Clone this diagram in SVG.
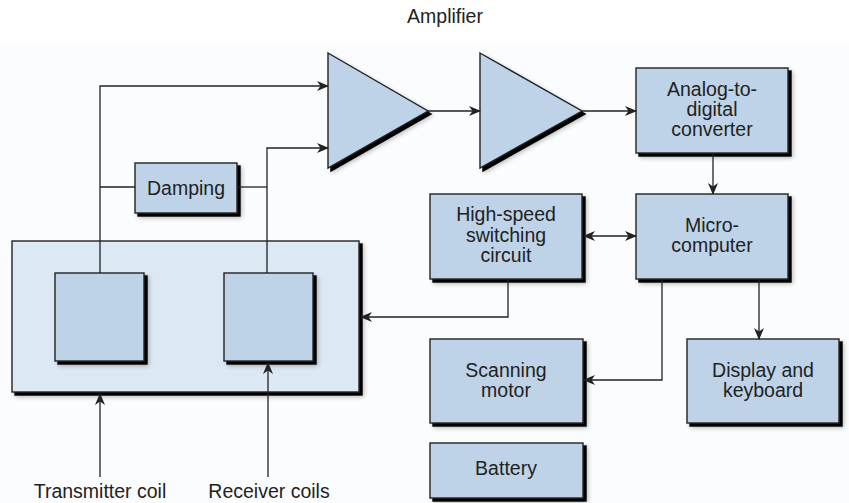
<svg xmlns="http://www.w3.org/2000/svg" width="849" height="503" viewBox="0 0 849 503">
<style>
.box{fill:#bed3e8;stroke:#222;stroke-width:1.4}
.outer{fill:#dce8f3;stroke:#222;stroke-width:1.4}
.ln{fill:none;stroke:#222;stroke-width:1.3}
text{font-family:"Liberation Sans",Arial,sans-serif;font-size:19.5px;fill:#222;text-anchor:middle}
</style>
<defs>
<marker id="ah" viewBox="0 0 12 10" refX="11" refY="5" markerWidth="12" markerHeight="10" markerUnits="userSpaceOnUse" orient="auto-start-reverse">
<path d="M0,0 L12,5 L0,10 L3.5,5 z" fill="#222"/>
</marker>
<filter id="sh" x="-10%" y="-10%" width="130%" height="130%">
<feOffset in="SourceAlpha" dx="2.5" dy="2.5" result="o"/>
<feGaussianBlur in="o" stdDeviation="0.6" result="b"/>
<feOffset in="SourceAlpha" dx="4" dy="4" result="o2"/>
<feGaussianBlur in="o2" stdDeviation="2.5" result="b2"/>
<feComponentTransfer in="b2" result="b3"><feFuncA type="linear" slope="0.3"/></feComponentTransfer>
<feMerge><feMergeNode in="b3"/><feMergeNode in="b"/><feMergeNode in="SourceGraphic"/></feMerge>
</filter>
</defs>
<rect width="849" height="503" fill="#ffffff"/>
<rect x="0" y="43" width="849" height="460" fill="#fbfcfd"/>

<g id="amplifier-label"><text x="445" y="23">Amplifier</text></g>

<g id="sensor-head"><rect class="outer" filter="url(#sh)" x="12" y="241" width="347" height="151"/></g>
<g id="transmitter-coil"><rect class="box" filter="url(#sh)" x="55" y="273" width="89" height="88"/></g>
<g id="receiver-coil"><rect class="box" filter="url(#sh)" x="224" y="273" width="89" height="88"/></g>

<g id="damping"><rect class="box" filter="url(#sh)" x="135" y="163" width="102" height="50"/><text x="186" y="195">Damping</text></g>

<g id="amp1"><polygon class="box" filter="url(#sh)" points="328,53 428,111 328,168"/></g>
<g id="amp2"><polygon class="box" filter="url(#sh)" points="480,53 582,111 480,168"/></g>

<g id="adc"><rect class="box" filter="url(#sh)" x="636" y="68" width="152" height="85"/>
<text x="712" y="96">Analog-to-</text><text x="712" y="116">digital</text><text x="712" y="136">converter</text></g>

<g id="microcomputer"><rect class="box" filter="url(#sh)" x="636" y="194" width="152" height="85"/>
<text x="712" y="232">Micro-</text><text x="712" y="252">computer</text></g>

<g id="switching"><rect class="box" filter="url(#sh)" x="430" y="194" width="152" height="85"/>
<text x="506" y="221">High-speed</text><text x="506" y="241.5">switching</text><text x="506" y="262">circuit</text></g>

<g id="scanning-motor"><rect class="box" filter="url(#sh)" x="430" y="339" width="153" height="84"/>
<text x="506" y="377">Scanning</text><text x="506" y="397">motor</text></g>

<g id="display"><rect class="box" filter="url(#sh)" x="687" y="339" width="152" height="84"/>
<text x="763" y="377">Display and</text><text x="763" y="397">keyboard</text></g>

<g id="battery"><rect class="box" filter="url(#sh)" x="430" y="443" width="153" height="55"/>
<text x="506" y="475">Battery</text></g>

<g id="labels"><text x="100" y="498">Transmitter coil</text><text x="269" y="498">Receiver coils</text></g>

<g id="connectors">
<polyline class="ln" points="100,273 100,86 328,86" marker-end="url(#ah)"/>
<line class="ln" x1="100" y1="187" x2="135" y2="187"/>
<line class="ln" x1="237" y1="187" x2="267" y2="187"/>
<polyline class="ln" points="267,273 267,148 328,148" marker-end="url(#ah)"/>
<line class="ln" x1="428" y1="111" x2="480" y2="111" marker-end="url(#ah)"/>
<line class="ln" x1="582" y1="111" x2="636" y2="111" marker-end="url(#ah)"/>
<line class="ln" x1="713" y1="153" x2="713" y2="194" marker-end="url(#ah)"/>
<line class="ln" x1="584" y1="236" x2="636" y2="236" marker-start="url(#ah)" marker-end="url(#ah)"/>
<polyline class="ln" points="508,279 508,317 361,317" marker-end="url(#ah)"/>
<polyline class="ln" points="662,279 662,380 584,380" marker-end="url(#ah)"/>
<line class="ln" x1="759" y1="279" x2="759" y2="339" marker-end="url(#ah)"/>
<line class="ln" x1="100" y1="477" x2="100" y2="394" marker-end="url(#ah)"/>
<line class="ln" x1="268" y1="477" x2="268" y2="363" marker-end="url(#ah)"/>
</g>
</svg>
